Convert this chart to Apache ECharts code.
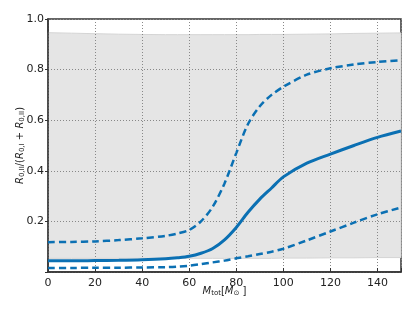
<!DOCTYPE html>
<html><head><meta charset="utf-8">
<script src="https://cdn.jsdelivr.net/npm/echarts@6/dist/echarts.min.js"></script>
<style>html,body{margin:0;padding:0;background:#fff}#c{width:415px;height:312px}</style>
</head><body><div id="c"></div>
<script>
var xs = [0,10,20,30,40,50,55,60,65,70,75,80,85,90,95,100,110,120,130,140,150];
var median = [0.044,0.044,0.045,0.046,0.048,0.052,0.056,0.062,0.074,0.093,0.127,0.176,0.236,0.288,0.332,0.376,0.430,0.466,0.500,0.532,0.557];
var upper = [0.118,0.119,0.121,0.126,0.133,0.143,0.152,0.166,0.200,0.258,0.350,0.470,0.585,0.655,0.700,0.732,0.780,0.805,0.820,0.830,0.837];
var lower = [0.016,0.016,0.017,0.017,0.018,0.019,0.021,0.025,0.031,0.038,0.045,0.054,0.062,0.071,0.080,0.092,0.125,0.160,0.195,0.228,0.255];
var bandLow = [0.054,0.054,0.054,0.054,0.054,0.054,0.054,0.054,0.054,0.054,0.054,0.054,0.054,0.054,0.054,0.055,0.055,0.056,0.056,0.057,0.057];
var bandHigh = [0.946,0.944,0.942,0.940,0.939,0.938,0.938,0.938,0.938,0.938,0.938,0.938,0.938,0.939,0.939,0.939,0.940,0.941,0.943,0.944,0.945];
var xTicks = [0,20,40,60,80,100,120,140];
var yTicks = [0.2,0.4,0.6,0.8,1.0];

function pairs(a){ return xs.map(function(x,i){ return [x,a[i]]; }); }
var blue = '#0b70b3';
var font = 'DejaVu Sans';
var chart = echarts.init(document.getElementById('c'), null, {renderer:'canvas'});
chart.setOption({
  animation:false,
  grid:{left:48,right:14,top:19,bottom:40,show:true,borderColor:'#333',borderWidth:1.5,backgroundColor:'transparent'},
  xAxis:{type:'value',min:0,max:150,interval:20,z:1,
    axisLine:{show:true,onZero:false,lineStyle:{color:'#333',width:1.5}},
    axisTick:{show:true,inside:true,length:4,lineStyle:{color:'#333'}},
    axisLabel:{color:'#222',fontFamily:font,fontSize:11,margin:6,
      formatter:function(v){ return xTicks.indexOf(v)>=0 ? String(v) : ''; }},
    splitLine:{show:true,lineStyle:{color:'#888',type:[1,2],width:1}},
    name:'{i|M}{s|tot}{n|[}{i|M}{s|⊙}{n| ]}',nameLocation:'middle',nameGap:14,nameMoveOverlap:false,
    nameTextStyle:{rich:{
      i:{fontFamily:font,fontStyle:'italic',fontSize:10,color:'#222',verticalAlign:'middle'},
      n:{fontFamily:font,fontSize:10,color:'#222',verticalAlign:'middle'},
      s:{fontFamily:font,fontSize:7,color:'#222',verticalAlign:'bottom',padding:[4,0,0,0]}
    }}
  },
  yAxis:{type:'value',min:0,max:1,interval:0.2,z:1,
    axisLine:{show:true,onZero:false,lineStyle:{color:'#333',width:1.5}},
    axisTick:{show:true,inside:false,length:3,lineStyle:{color:'#333'}},
    axisLabel:{color:'#222',fontFamily:font,fontSize:11,margin:4,
      formatter:function(v){ var r=Math.round(v*10)/10; return yTicks.indexOf(r)>=0 ? r.toFixed(1) : ''; }},
    splitLine:{show:true,lineStyle:{color:'#888',type:[1,2],width:1}},
    name:'{i|R}{s|0,II}{n|/(}{i|R}{s|0,I}{n| + }{i|R}{s|0,II}{n|)}',nameLocation:'middle',nameGap:22,nameMoveOverlap:false,
    nameTextStyle:{rich:{
      i:{fontFamily:font,fontStyle:'italic',fontSize:10,color:'#222',verticalAlign:'middle'},
      n:{fontFamily:font,fontSize:10,color:'#222',verticalAlign:'middle'},
      s:{fontFamily:font,fontSize:7,color:'#222',verticalAlign:'bottom',padding:[4,0,0,0]}
    }}
  },
  series:[
    {type:'custom',silent:true,z:0,data:[[0,0]],
      renderItem:function(params,api){
        var pts=[];
        for(var i=0;i<xs.length;i++) pts.push(api.coord([xs[i],bandHigh[i]]));
        for(var j=xs.length-1;j>=0;j--) pts.push(api.coord([xs[j],bandLow[j]]));
        return {type:'polygon',shape:{points:pts},style:{fill:'#e5e5e5',stroke:'#d4d4d4',lineWidth:1}};
      }},
    {type:'line',data:pairs(upper),symbol:'none',smooth:0.3,lineStyle:{color:blue,width:2.5,type:[7,4]},z:3},
    {type:'line',data:pairs(median),symbol:'none',smooth:0.3,lineStyle:{color:blue,width:3},z:3},
    {type:'line',data:pairs(lower),symbol:'none',smooth:0.3,lineStyle:{color:blue,width:2.5,type:[7,4]},z:3}
  ]
});
</script></body></html>
